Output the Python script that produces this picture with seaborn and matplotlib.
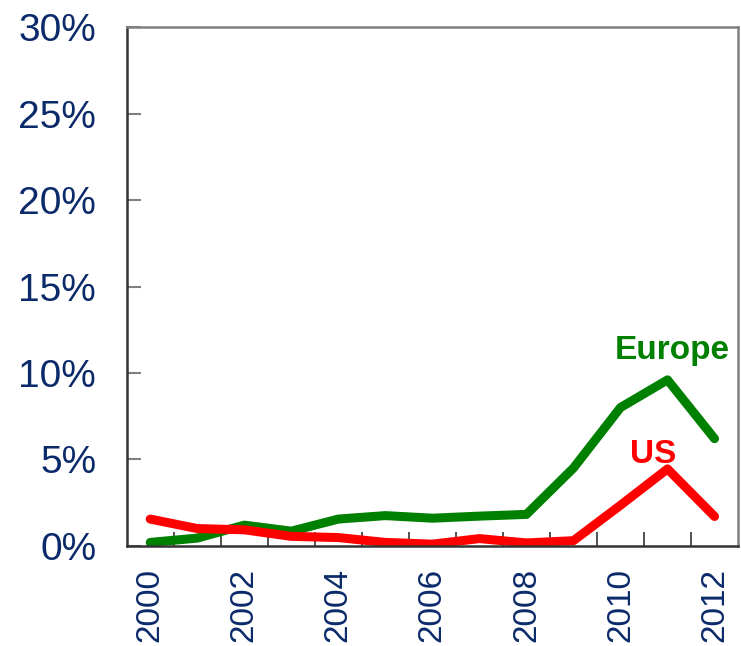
import numpy as np
import pandas as pd
import seaborn as sns
import matplotlib.pyplot as plt
from matplotlib.ticker import FixedLocator, PercentFormatter

years = list(range(2000, 2013))
europe = [0.2, 0.45, 1.2, 0.85, 1.55, 1.75, 1.6, 1.72, 1.82, 4.5, 8.0, 9.6, 6.2]
us = [1.55, 1.0, 0.93, 0.55, 0.48, 0.2, 0.1, 0.42, 0.17, 0.3, 2.35, 4.45, 1.7]
series = ["Europe", "US"]
colors = {"Europe": "#008000", "US": "#FF0000"}

df = pd.DataFrame({
    "year": years * 2,
    "value": europe + us,
    "region": ["Europe"] * len(years) + ["US"] * len(years),
})

sns.set_style("white")
plt.rcParams["font.family"] = ["Liberation Sans", "DejaVu Sans"]
navy = "#0B2A6A"

fig = plt.figure(figsize=(7.41, 6.46), dpi=100)
ax = fig.add_axes([0.171, 0.155, 0.825, 0.803])
sns.lineplot(data=df, x="year", y="value", hue="region", palette=colors,
             linewidth=6.5, legend=False, ax=ax, solid_capstyle="round")

ax.set_xlim(1999.5, 2012.5)
ax.set_ylim(0, 30)
ax.set_xlabel("")
ax.set_ylabel("")

ax.yaxis.set_major_locator(FixedLocator(range(0, 31, 5)))
ax.yaxis.set_major_formatter(PercentFormatter(decimals=0))
ax.tick_params(axis="y", direction="in", length=10, width=1.5, color="#808080",
               labelsize=28, labelcolor=navy, pad=22, left=True)

ax.xaxis.set_major_locator(FixedLocator(years[::2]))
ax.xaxis.set_minor_locator(FixedLocator([y + 0.5 for y in years[:-1]]))
ax.tick_params(axis="x", which="major", length=0, labelsize=24,
               labelcolor=navy, pad=16, labelrotation=90)
ax.tick_params(axis="x", which="minor", direction="in", length=10, width=1.2,
               color="#333333", bottom=True)

for side in ["left", "bottom"]:
    ax.spines[side].set_color("#333333")
    ax.spines[side].set_linewidth(1.8)
for side in ["top", "right"]:
    ax.spines[side].set_color("#808080")
    ax.spines[side].set_linewidth(1.8)

ax.text(2011.1, 11.3, "Europe", color=colors["Europe"], fontsize=24,
        fontweight="bold", ha="center", va="center")
ax.text(2010.7, 5.3, "US", color=colors["US"], fontsize=24,
        fontweight="bold", ha="center", va="center")

fig.savefig("out.png", dpi=100)
